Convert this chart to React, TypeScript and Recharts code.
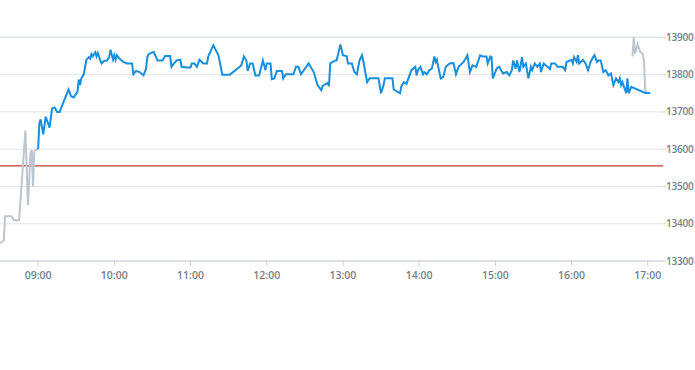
import { LineChart, Line, XAxis, YAxis, CartesianGrid, ReferenceLine } from 'recharts';

// [minutes since midnight, price]
const preMarket: [number, number][] = [
    [510, 13348], [513, 13355], [514, 13420], [519, 13420], [521, 13409], [525, 13409],
    [530, 13650], [532, 13450], [534, 13590], [535, 13598], [536, 13500], [537, 13593],
    [538, 13598], [540, 13602],
];

const mainSession: [number, number][] = [
    [540, 13600], [541, 13670], [542, 13680], [544, 13640], [546, 13687], [549, 13658],
    [551, 13709], [553, 13712], [555, 13700], [557, 13700], [560, 13727], [564, 13760],
    [566, 13742], [568, 13739], [571, 13754], [572, 13787], [573, 13772], [574, 13790],
    [576, 13801], [578, 13840], [580, 13847], [581, 13843], [582, 13855], [583, 13849],
    [585, 13860], [586, 13849], [587, 13858], [589, 13838], [590, 13830], [592, 13837],
    [594, 13837], [596, 13847], [597, 13867], [599, 13840], [600, 13852], [601, 13840],
    [602, 13852], [604, 13843], [607, 13834], [610, 13830], [614, 13830], [615, 13801],
    [617, 13810], [620, 13807], [623, 13798], [625, 13816], [626, 13847], [627, 13855],
    [631, 13861], [634, 13838], [638, 13838], [640, 13850], [644, 13850], [645, 13821],
    [647, 13830], [649, 13838], [652, 13840], [653, 13821], [657, 13819], [660, 13819],
    [661, 13830], [663, 13830], [665, 13821], [667, 13840], [670, 13830], [673, 13830],
    [674, 13849], [678, 13879], [682, 13852], [685, 13800], [691, 13800], [698, 13819],
    [700, 13825], [702, 13849], [704, 13838], [705, 13810], [707, 13830], [709, 13830],
    [711, 13798], [714, 13798], [717, 13838], [719, 13812], [720, 13830], [723, 13830],
    [724, 13788], [726, 13790], [728, 13810], [732, 13810], [733, 13790], [735, 13801],
    [741, 13801], [743, 13821], [745, 13821], [747, 13801], [753, 13830], [757, 13807],
    [760, 13772], [763, 13758], [764, 13770], [768, 13778], [769, 13769], [770, 13830],
    [774, 13838], [775, 13838], [778, 13881], [780, 13852], [783, 13849], [784, 13830],
    [787, 13830], [789, 13807], [791, 13801], [793, 13838], [795, 13852], [796, 13838],
    [799, 13780], [801, 13790], [808, 13790], [810, 13750], [812, 13772], [813, 13790],
    [819, 13790], [820, 13760], [825, 13750], [826, 13769], [828, 13780], [830, 13775],
    [832, 13794], [834, 13812], [837, 13821], [838, 13798], [839, 13812], [841, 13821],
    [843, 13801], [844, 13807], [846, 13801], [848, 13812], [850, 13816], [852, 13849],
    [853, 13834], [854, 13840], [855, 13821], [857, 13790], [859, 13794], [861, 13821],
    [864, 13830], [867, 13831], [869, 13801], [871, 13821], [875, 13834], [878, 13852],
    [880, 13807], [882, 13825], [885, 13821], [888, 13852], [890, 13849], [893, 13849],
    [894, 13830], [896, 13849], [897, 13847], [898, 13790], [901, 13816], [903, 13821],
    [906, 13803], [909, 13807], [911, 13798], [913, 13812], [914, 13838], [916, 13816],
    [917, 13838], [919, 13807], [921, 13847], [922, 13821], [924, 13830], [926, 13790],
    [928, 13821], [929, 13812], [931, 13830], [933, 13821], [935, 13830], [936, 13807],
    [938, 13830], [941, 13821], [943, 13815], [944, 13830], [947, 13830], [949, 13821],
    [953, 13821], [955, 13812], [956, 13834], [960, 13840], [961, 13830], [962, 13847],
    [964, 13834], [965, 13852], [966, 13830], [969, 13840], [971, 13830], [973, 13812],
    [975, 13834], [977, 13847], [978, 13852], [980, 13834], [981, 13838], [983, 13838],
    [985, 13807], [987, 13812], [989, 13798], [991, 13803], [993, 13772], [995, 13790],
    [997, 13780], [998, 13790], [999, 13772], [1000, 13780], [1003, 13750], [1004, 13790],
    [1005, 13750], [1007, 13767], [1018, 13751], [1022, 13751],
];

const postMarket: [number, number][] = [
    [1008, 13849], [1009, 13901], [1010, 13856], [1012, 13881], [1014, 13861],
    [1016, 13856], [1017, 13838], [1018, 13758], [1019, 13751],
];

const previousClose = 13555;
const timeTicks = [540, 600, 660, 720, 780, 840, 900, 960, 1020];
const priceTicks = [13300, 13400, 13500, 13600, 13700, 13800, 13900];

const toRows = (pts: [number, number][]) => pts.map(([t, price]) => ({ t, price }));

const fmtTime = (m: number) => {
    const h = Math.floor(m / 60);
    const mm = m % 60;
    return `${String(h).padStart(2, '0')}:${String(mm).padStart(2, '0')}`;
};

const tickStyle = { fill: '#75828d', fontSize: 10.5, fontWeight: 600, fontFamily: '"Open Sans", sans-serif' };

export default function App() {
    return (
        <div style={{ position: 'absolute', left: 0, top: 0, width: 695, height: 370, background: '#fff' }}>
            <LineChart width={695} height={370} margin={{ top: 37, right: 0, bottom: 87, left: 0 }}>
                <CartesianGrid vertical={false} stroke="#e2e5e8" />
                <XAxis
                    dataKey="t"
                    type="number"
                    domain={[510, 1032]}
                    ticks={timeTicks}
                    tickFormatter={fmtTime}
                    allowDataOverflow
                    stroke="#c9d0d6"
                    tickSize={5}
                    tickMargin={6}
                    tick={tickStyle}
                    height={22}
                />
                <YAxis
                    orientation="right"
                    domain={[13300, 13900]}
                    ticks={priceTicks}
                    axisLine={false}
                    tickLine={{ stroke: '#c9d0d6' }}
                    tickSize={3}
                    tickMargin={0}
                    width={32}
                    tick={{ ...tickStyle, fontSize: 10, letterSpacing: -0.2, textAnchor: 'start' }}
                />
                <ReferenceLine y={previousClose} stroke="#c0392f" strokeWidth={1.2} />
                <Line data={toRows(preMarket)} dataKey="price" stroke="#bcc6ce" strokeWidth={2} dot={false} isAnimationActive={false} />
                <Line data={toRows(postMarket)} dataKey="price" stroke="#bcc6ce" strokeWidth={2} dot={false} isAnimationActive={false} />
                <Line data={toRows(mainSession)} dataKey="price" stroke="#178fdd" strokeWidth={2} dot={false} isAnimationActive={false} />
            </LineChart>
        </div>
    );
}
